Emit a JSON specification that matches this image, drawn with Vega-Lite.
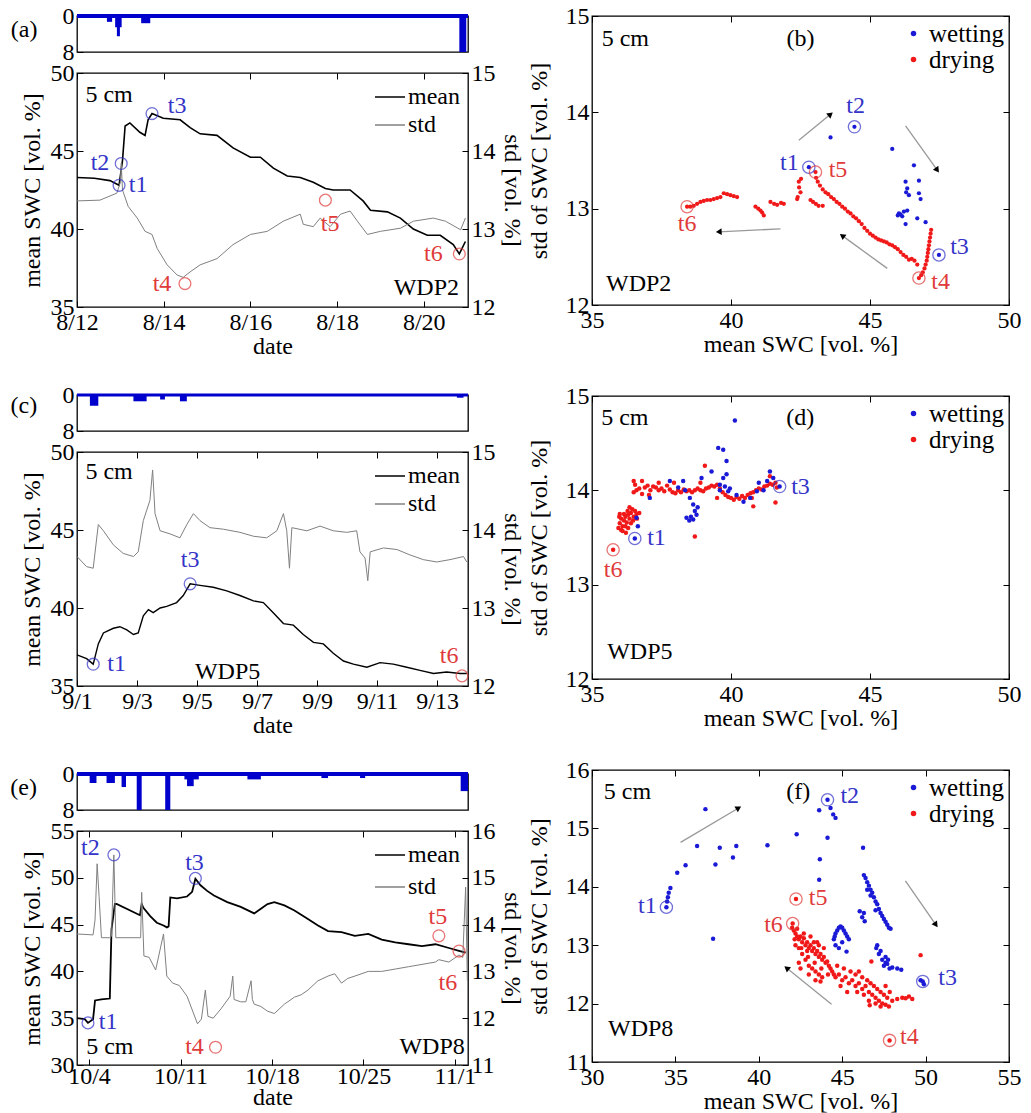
{
"$schema": "https://vega.github.io/schema/vega-lite/v6.json",
"padding": {"left": 9, "top": 3, "right": 0, "bottom": 0},
"config": {
 "font": "Liberation Serif",
 "view": {"stroke": "black", "strokeWidth": 1.3},
 "axis": {"grid": false, "domain": false, "labelFontSize": 24, "titleFontSize": 24, "titleFontWeight": "normal", "labelColor": "black", "titleColor": "black", "tickColor": "black", "tickSize": -6, "labelPadding": 9, "labelFont": "Liberation Serif", "titleFont": "Liberation Serif", "labelFlush": false, "labelOverlap": false},
 "legend": {"labelFont": "Liberation Serif", "labelColor": "black", "labelFontSize": 24},
 "text": {"fontSize": 24, "font": "Liberation Serif"}
},
"datasets": {
 "ts_a": [
  {"s":"mean","day":12.0,"v":43.3},{"s":"mean","day":12.4,"v":43.25},{"s":"mean","day":12.76,"v":43.1},{"s":"mean","day":12.97,"v":42.8},{"s":"mean","day":13.05,"v":44.4},{"s":"mean","day":13.11,"v":46.6},{"s":"mean","day":13.22,"v":46.8},{"s":"mean","day":13.45,"v":46.2},{"s":"mean","day":13.57,"v":46.0},{"s":"mean","day":13.64,"v":47.0},{"s":"mean","day":13.73,"v":47.4},{"s":"mean","day":13.99,"v":47.1},{"s":"mean","day":14.38,"v":47.0},{"s":"mean","day":14.61,"v":46.5},{"s":"mean","day":14.84,"v":46.1},{"s":"mean","day":15.23,"v":46.0},{"s":"mean","day":15.6,"v":45.2},{"s":"mean","day":16.0,"v":44.6},{"s":"mean","day":16.23,"v":44.6},{"s":"mean","day":16.53,"v":43.9},{"s":"mean","day":16.85,"v":43.4},{"s":"mean","day":17.15,"v":43.3},{"s":"mean","day":17.45,"v":43.0},{"s":"mean","day":17.73,"v":42.6},{"s":"mean","day":17.91,"v":42.5},{"s":"mean","day":18.3,"v":42.5},{"s":"mean","day":18.6,"v":41.8},{"s":"mean","day":18.77,"v":41.2},{"s":"mean","day":19.16,"v":41.1},{"s":"mean","day":19.46,"v":40.7},{"s":"mean","day":19.76,"v":40.0},{"s":"mean","day":20.08,"v":39.6},{"s":"mean","day":20.38,"v":39.6},{"s":"mean","day":20.68,"v":39.0},{"s":"mean","day":20.82,"v":38.4},{"s":"mean","day":20.96,"v":39.2},
  {"s":"std","day":12.0,"v":13.36},{"s":"std","day":12.53,"v":13.37},{"s":"std","day":12.92,"v":13.46},{"s":"std","day":13.0,"v":13.6},{"s":"std","day":13.02,"v":13.84},{"s":"std","day":13.05,"v":13.5},{"s":"std","day":13.18,"v":13.29},{"s":"std","day":13.39,"v":13.14},{"s":"std","day":13.57,"v":12.97},{"s":"std","day":13.73,"v":12.93},{"s":"std","day":13.85,"v":12.75},{"s":"std","day":14.08,"v":12.54},{"s":"std","day":14.31,"v":12.41},{"s":"std","day":14.45,"v":12.38},{"s":"std","day":14.61,"v":12.45},{"s":"std","day":14.84,"v":12.54},{"s":"std","day":15.23,"v":12.62},{"s":"std","day":15.6,"v":12.8},{"s":"std","day":16.0,"v":12.93},{"s":"std","day":16.39,"v":12.97},{"s":"std","day":16.76,"v":13.1},{"s":"std","day":17.15,"v":13.19},{"s":"std","day":17.22,"v":13.06},{"s":"std","day":17.45,"v":13.03},{"s":"std","day":17.61,"v":13.14},{"s":"std","day":17.84,"v":13.03},{"s":"std","day":18.08,"v":13.19},{"s":"std","day":18.3,"v":13.23},{"s":"std","day":18.47,"v":13.1},{"s":"std","day":18.7,"v":12.93},{"s":"std","day":19.0,"v":12.97},{"s":"std","day":19.46,"v":13.01},{"s":"std","day":19.76,"v":13.1},{"s":"std","day":20.22,"v":13.14},{"s":"std","day":20.5,"v":13.1},{"s":"std","day":20.85,"v":12.99},{"s":"std","day":20.96,"v":13.14}
 ],
 "ts_c": [
  {"s":"mean","day":1.0,"v":37.0},{"s":"mean","day":1.32,"v":36.75},{"s":"mean","day":1.54,"v":36.4},{"s":"mean","day":1.71,"v":37.7},{"s":"mean","day":1.88,"v":38.4},{"s":"mean","day":2.21,"v":38.7},{"s":"mean","day":2.43,"v":38.8},{"s":"mean","day":2.66,"v":38.6},{"s":"mean","day":2.88,"v":38.3},{"s":"mean","day":3.04,"v":38.4},{"s":"mean","day":3.21,"v":39.5},{"s":"mean","day":3.38,"v":39.9},{"s":"mean","day":3.54,"v":39.7},{"s":"mean","day":3.77,"v":40.0},{"s":"mean","day":3.99,"v":40.1},{"s":"mean","day":4.32,"v":40.35},{"s":"mean","day":4.54,"v":40.8},{"s":"mean","day":4.77,"v":41.55},{"s":"mean","day":5.1,"v":41.45},{"s":"mean","day":5.54,"v":41.33},{"s":"mean","day":5.99,"v":41.1},{"s":"mean","day":6.43,"v":40.8},{"s":"mean","day":6.88,"v":40.46},{"s":"mean","day":7.21,"v":40.35},{"s":"mean","day":7.54,"v":39.7},{"s":"mean","day":7.88,"v":39.0},{"s":"mean","day":8.21,"v":38.9},{"s":"mean","day":8.54,"v":38.3},{"s":"mean","day":8.88,"v":37.8},{"s":"mean","day":9.21,"v":37.7},{"s":"mean","day":9.54,"v":37.1},{"s":"mean","day":9.88,"v":36.6},{"s":"mean","day":10.21,"v":36.4},{"s":"mean","day":10.66,"v":36.2},{"s":"mean","day":11.1,"v":36.5},{"s":"mean","day":11.54,"v":36.4},{"s":"mean","day":11.99,"v":36.2},{"s":"mean","day":12.43,"v":36.0},{"s":"mean","day":12.88,"v":35.8},{"s":"mean","day":13.32,"v":35.9},{"s":"mean","day":13.77,"v":35.8},{"s":"mean","day":13.99,"v":35.8},
  {"s":"std","day":1.0,"v":13.66},{"s":"std","day":1.32,"v":13.53},{"s":"std","day":1.54,"v":13.51},{"s":"std","day":1.71,"v":14.07},{"s":"std","day":1.88,"v":13.99},{"s":"std","day":2.21,"v":13.81},{"s":"std","day":2.54,"v":13.7},{"s":"std","day":2.88,"v":13.66},{"s":"std","day":3.04,"v":13.72},{"s":"std","day":3.21,"v":14.12},{"s":"std","day":3.43,"v":14.38},{"s":"std","day":3.52,"v":14.77},{"s":"std","day":3.6,"v":14.21},{"s":"std","day":3.77,"v":13.99},{"s":"std","day":4.1,"v":13.95},{"s":"std","day":4.43,"v":13.9},{"s":"std","day":4.66,"v":14.07},{"s":"std","day":4.88,"v":14.21},{"s":"std","day":5.1,"v":14.12},{"s":"std","day":5.43,"v":14.03},{"s":"std","day":5.88,"v":14.01},{"s":"std","day":6.43,"v":13.97},{"s":"std","day":6.88,"v":13.92},{"s":"std","day":7.32,"v":13.9},{"s":"std","day":7.66,"v":13.99},{"s":"std","day":7.88,"v":14.21},{"s":"std","day":7.99,"v":13.99},{"s":"std","day":8.08,"v":13.51},{"s":"std","day":8.16,"v":14.03},{"s":"std","day":8.66,"v":13.99},{"s":"std","day":9.1,"v":14.05},{"s":"std","day":9.54,"v":13.99},{"s":"std","day":9.99,"v":13.97},{"s":"std","day":10.32,"v":13.99},{"s":"std","day":10.43,"v":13.72},{"s":"std","day":10.6,"v":13.64},{"s":"std","day":10.69,"v":13.35},{"s":"std","day":10.77,"v":13.72},{"s":"std","day":11.21,"v":13.77},{"s":"std","day":11.66,"v":13.75},{"s":"std","day":12.1,"v":13.68},{"s":"std","day":12.54,"v":13.62},{"s":"std","day":12.99,"v":13.59},{"s":"std","day":13.43,"v":13.62},{"s":"std","day":13.88,"v":13.66},{"s":"std","day":13.99,"v":13.59}
 ],
 "ts_e": [
  {"s":"mean","day":3.08,"v":35.0},{"s":"mean","day":3.67,"v":34.9},{"s":"mean","day":3.92,"v":34.5},{"s":"mean","day":4.31,"v":34.9},{"s":"mean","day":4.46,"v":36.9},{"s":"mean","day":4.95,"v":37.0},{"s":"mean","day":5.59,"v":37.1},{"s":"mean","day":5.72,"v":44.5},{"s":"mean","day":5.98,"v":47.2},{"s":"mean","day":6.11,"v":47.2},{"s":"mean","day":7.9,"v":46.0},{"s":"mean","day":8.03,"v":47.2},{"s":"mean","day":8.16,"v":46.8},{"s":"mean","day":8.68,"v":45.9},{"s":"mean","day":9.19,"v":45.2},{"s":"mean","day":9.7,"v":44.9},{"s":"mean","day":9.96,"v":44.7},{"s":"mean","day":10.09,"v":44.8},{"s":"mean","day":10.22,"v":47.9},{"s":"mean","day":10.73,"v":47.8},{"s":"mean","day":11.5,"v":48.0},{"s":"mean","day":11.89,"v":48.5},{"s":"mean","day":12.14,"v":49.9},{"s":"mean","day":12.53,"v":49.2},{"s":"mean","day":13.04,"v":48.6},{"s":"mean","day":13.56,"v":48.1},{"s":"mean","day":14.58,"v":47.4},{"s":"mean","day":15.61,"v":46.9},{"s":"mean","day":16.64,"v":46.2},{"s":"mean","day":17.15,"v":46.7},{"s":"mean","day":17.66,"v":47.2},{"s":"mean","day":18.18,"v":47.4},{"s":"mean","day":18.95,"v":47.05},{"s":"mean","day":19.72,"v":46.5},{"s":"mean","day":20.75,"v":45.6},{"s":"mean","day":21.52,"v":44.9},{"s":"mean","day":22.29,"v":44.3},{"s":"mean","day":23.32,"v":44.2},{"s":"mean","day":24.34,"v":43.8},{"s":"mean","day":25.37,"v":44.0},{"s":"mean","day":26.4,"v":43.4},{"s":"mean","day":27.43,"v":43.1},{"s":"mean","day":28.45,"v":42.9},{"s":"mean","day":29.48,"v":42.7},{"s":"mean","day":30.51,"v":42.9},{"s":"mean","day":31.54,"v":42.5},{"s":"mean","day":32.31,"v":42.2},{"s":"mean","day":32.82,"v":42.0},
  {"s":"std","day":3.08,"v":13.8},{"s":"std","day":4.31,"v":13.78},{"s":"std","day":4.46,"v":14.1},{"s":"std","day":4.62,"v":15.3},{"s":"std","day":4.77,"v":14.6},{"s":"std","day":4.95,"v":13.72},{"s":"std","day":5.59,"v":13.72},{"s":"std","day":5.72,"v":13.75},{"s":"std","day":5.9,"v":15.49},{"s":"std","day":6.05,"v":13.72},{"s":"std","day":7.95,"v":13.72},{"s":"std","day":8.03,"v":14.69},{"s":"std","day":8.2,"v":13.33},{"s":"std","day":8.6,"v":13.3},{"s":"std","day":9.1,"v":13.03},{"s":"std","day":9.7,"v":13.8},{"s":"std","day":9.95,"v":12.9},{"s":"std","day":10.4,"v":12.75},{"s":"std","day":10.9,"v":12.7},{"s":"std","day":11.5,"v":12.47},{"s":"std","day":12.3,"v":11.88},{"s":"std","day":12.6,"v":11.98},{"s":"std","day":12.9,"v":12.6},{"s":"std","day":13.1,"v":12.04},{"s":"std","day":13.5,"v":12.0},{"s":"std","day":14.1,"v":12.2},{"s":"std","day":14.8,"v":12.47},{"s":"std","day":15.0,"v":12.9},{"s":"std","day":15.1,"v":12.4},{"s":"std","day":15.61,"v":12.35},{"s":"std","day":16.0,"v":12.35},{"s":"std","day":16.4,"v":12.8},{"s":"std","day":16.5,"v":12.4},{"s":"std","day":16.64,"v":12.3},{"s":"std","day":17.15,"v":12.25},{"s":"std","day":17.66,"v":12.15},{"s":"std","day":18.18,"v":12.1},{"s":"std","day":18.95,"v":12.3},{"s":"std","day":19.72,"v":12.45},{"s":"std","day":20.23,"v":12.5},{"s":"std","day":20.75,"v":12.6},{"s":"std","day":21.52,"v":12.8},{"s":"std","day":22.29,"v":12.9},{"s":"std","day":22.8,"v":12.95},{"s":"std","day":23.32,"v":12.75},{"s":"std","day":23.8,"v":12.85},{"s":"std","day":24.34,"v":12.9},{"s":"std","day":25.37,"v":13.0},{"s":"std","day":26.4,"v":13.0},{"s":"std","day":27.43,"v":13.05},{"s":"std","day":28.45,"v":13.1},{"s":"std","day":29.48,"v":13.15},{"s":"std","day":30.51,"v":13.2},{"s":"std","day":30.77,"v":13.25},{"s":"std","day":31.54,"v":13.2},{"s":"std","day":32.31,"v":13.35},{"s":"std","day":32.6,"v":13.3},{"s":"std","day":32.82,"v":14.8},{"s":"std","day":32.95,"v":12.8}
 ],
 "pr_a": [{"d0":12.69,"d1":12.81,"p":1.3},{"d0":12.88,"d1":13.03,"p":2.5},{"d0":12.92,"d1":12.99,"p":4.5},{"d0":13.48,"d1":13.69,"p":1.6},{"d0":20.82,"d1":20.98,"p":8}],
 "pr_c": [{"d0":1.43,"d1":1.71,"p":2.4},{"d0":2.88,"d1":3.32,"p":1.4},{"d0":3.77,"d1":3.93,"p":1.0},{"d0":4.43,"d1":4.66,"p":1.4},{"d0":13.66,"d1":13.88,"p":0.6}],
 "pr_e": [{"d0":4.05,"d1":4.57,"p":2.0},{"d0":5.34,"d1":5.98,"p":2.0},{"d0":6.49,"d1":6.83,"p":2.9},{"d0":7.65,"d1":8.03,"p":8},{"d0":9.83,"d1":10.22,"p":8},{"d0":11.5,"d1":12.01,"p":2.7},{"d0":11.3,"d1":12.4,"p":1.2},{"d0":16.12,"d1":17.15,"p":1.2},{"d0":21.78,"d1":22.29,"p":0.9},{"d0":24.74,"d1":25.13,"p":0.9},{"d0":32.44,"d1":33.0,"p":3.8}],
 "mk_a": [{"t":"t1","k":"w","ax":"m","day":12.97,"v":42.8,"lx":13.41,"ly":42.8},{"t":"t2","k":"w","ax":"s","day":13.02,"v":13.84,"lx":12.53,"ly":13.84},{"t":"t3","k":"w","ax":"m","day":13.73,"v":47.4,"lx":14.31,"ly":47.87},{"t":"t4","k":"d","ax":"s","day":14.49,"v":12.3,"lx":13.96,"ly":12.3},{"t":"t5","k":"d","ax":"s","day":17.73,"v":13.37,"lx":17.84,"ly":13.07},{"t":"t6","k":"d","ax":"m","day":20.82,"v":38.4,"lx":20.22,"ly":38.4}],
 "mk_c": [{"t":"t1","k":"w","ax":"m","day":1.54,"v":36.4,"lx":2.32,"ly":36.42},{"t":"t3","k":"w","ax":"m","day":4.77,"v":41.55,"lx":4.77,"ly":43.08},{"t":"t6","k":"d","ax":"m","day":13.83,"v":35.65,"lx":13.4,"ly":36.9}],
 "mk_e": [{"t":"t1","k":"w","ax":"m","day":3.92,"v":34.5,"lx":5.46,"ly":34.6},{"t":"t2","k":"w","ax":"s","day":5.9,"v":15.49,"lx":4.1,"ly":15.64},{"t":"t3","k":"w","ax":"m","day":12.14,"v":49.94,"lx":12.07,"ly":51.57},{"t":"t4","k":"d","ax":"s","day":13.68,"v":11.38,"lx":12.07,"ly":11.38},{"t":"t5","k":"d","ax":"s","day":30.77,"v":13.76,"lx":30.69,"ly":14.16},{"t":"t6","k":"d","ax":"m","day":32.31,"v":42.17,"lx":31.46,"ly":38.74}],
 "sc_b": [
  {"ph":"drying","m":47.2,"sd":12.78},{"ph":"drying","m":47.18,"sd":12.74},{"ph":"drying","m":47.16,"sd":12.7},{"ph":"drying","m":47.14,"sd":12.66},{"ph":"drying","m":47.12,"sd":12.62},{"ph":"drying","m":47.1,"sd":12.58},{"ph":"drying","m":47.08,"sd":12.54},{"ph":"drying","m":47.06,"sd":12.5},{"ph":"drying","m":47.04,"sd":12.46},{"ph":"drying","m":47.0,"sd":12.42},{"ph":"drying","m":46.96,"sd":12.38},{"ph":"drying","m":46.9,"sd":12.34},{"ph":"drying","m":46.84,"sd":12.31},{"ph":"drying","m":46.76,"sd":12.28},
  {"ph":"drying","m":46.7,"sd":12.42},{"ph":"drying","m":46.6,"sd":12.46},{"ph":"drying","m":46.5,"sd":12.48},{"ph":"drying","m":46.4,"sd":12.47},{"ph":"drying","m":46.3,"sd":12.5},{"ph":"drying","m":46.2,"sd":12.52},{"ph":"drying","m":46.1,"sd":12.55},{"ph":"drying","m":46.0,"sd":12.58},{"ph":"drying","m":45.9,"sd":12.6},{"ph":"drying","m":45.8,"sd":12.62},{"ph":"drying","m":45.7,"sd":12.63},{"ph":"drying","m":45.6,"sd":12.65},{"ph":"drying","m":45.5,"sd":12.66},{"ph":"drying","m":45.4,"sd":12.67},{"ph":"drying","m":45.3,"sd":12.68},{"ph":"drying","m":45.2,"sd":12.7},{"ph":"drying","m":45.1,"sd":12.72},{"ph":"drying","m":45.0,"sd":12.74},{"ph":"drying","m":44.9,"sd":12.77},{"ph":"drying","m":44.8,"sd":12.8},{"ph":"drying","m":44.7,"sd":12.84},{"ph":"drying","m":44.6,"sd":12.87},{"ph":"drying","m":44.5,"sd":12.9},{"ph":"drying","m":44.4,"sd":12.92},{"ph":"drying","m":44.3,"sd":12.95},{"ph":"drying","m":44.2,"sd":12.97},{"ph":"drying","m":44.1,"sd":13.0},{"ph":"drying","m":44.0,"sd":13.02},{"ph":"drying","m":43.9,"sd":13.05},{"ph":"drying","m":43.8,"sd":13.07},{"ph":"drying","m":43.7,"sd":13.1},{"ph":"drying","m":43.6,"sd":13.12},{"ph":"drying","m":43.5,"sd":13.15},{"ph":"drying","m":43.4,"sd":13.17},{"ph":"drying","m":43.3,"sd":13.2},{"ph":"drying","m":43.2,"sd":13.24},{"ph":"drying","m":43.12,"sd":13.28},{"ph":"drying","m":43.06,"sd":13.32},{"ph":"drying","m":43.04,"sd":13.38},
  {"ph":"drying","m":42.86,"sd":13.09},{"ph":"drying","m":42.95,"sd":13.07},{"ph":"drying","m":43.05,"sd":13.05},{"ph":"drying","m":43.15,"sd":13.03},{"ph":"drying","m":43.3,"sd":13.03},
  {"ph":"drying","m":42.5,"sd":13.17},{"ph":"drying","m":42.45,"sd":13.22},{"ph":"drying","m":42.44,"sd":13.28},{"ph":"drying","m":42.4,"sd":13.12},{"ph":"drying","m":42.38,"sd":13.1},{"ph":"drying","m":42.52,"sd":13.31},
  {"ph":"drying","m":41.9,"sd":13.05},{"ph":"drying","m":41.8,"sd":13.06},{"ph":"drying","m":41.66,"sd":13.04},{"ph":"drying","m":41.55,"sd":13.05},{"ph":"drying","m":41.42,"sd":13.07},
  {"ph":"drying","m":41.18,"sd":12.93},{"ph":"drying","m":41.12,"sd":12.96},{"ph":"drying","m":41.06,"sd":12.98},{"ph":"drying","m":40.98,"sd":13.0},{"ph":"drying","m":40.88,"sd":13.02},
  {"ph":"drying","m":40.22,"sd":13.12},{"ph":"drying","m":40.1,"sd":13.13},{"ph":"drying","m":39.98,"sd":13.14},{"ph":"drying","m":39.86,"sd":13.15},{"ph":"drying","m":39.74,"sd":13.16},{"ph":"drying","m":39.62,"sd":13.12},{"ph":"drying","m":39.5,"sd":13.11},{"ph":"drying","m":39.38,"sd":13.1},{"ph":"drying","m":39.26,"sd":13.09},{"ph":"drying","m":39.14,"sd":13.09},{"ph":"drying","m":39.02,"sd":13.08},{"ph":"drying","m":38.9,"sd":13.07},{"ph":"drying","m":38.78,"sd":13.05},{"ph":"drying","m":38.66,"sd":13.03},{"ph":"drying","m":38.54,"sd":13.02},{"ph":"drying","m":38.42,"sd":13.02},
  {"ph":"wetting","m":42.8,"sd":13.43},{"ph":"wetting","m":43.58,"sd":13.74},{"ph":"wetting","m":44.44,"sd":13.85},{"ph":"wetting","m":45.8,"sd":13.62},{"ph":"wetting","m":46.58,"sd":13.45},{"ph":"wetting","m":46.28,"sd":13.28},{"ph":"wetting","m":46.76,"sd":13.29},{"ph":"wetting","m":46.34,"sd":13.21},{"ph":"wetting","m":46.4,"sd":13.14},{"ph":"wetting","m":46.76,"sd":13.16},{"ph":"wetting","m":46.82,"sd":13.1},{"ph":"wetting","m":46.04,"sd":12.95},{"ph":"wetting","m":46.22,"sd":12.97},{"ph":"wetting","m":46.34,"sd":12.98},{"ph":"wetting","m":46.0,"sd":12.93},{"ph":"wetting","m":46.28,"sd":12.84},{"ph":"wetting","m":46.7,"sd":12.9},{"ph":"wetting","m":47.0,"sd":12.86},{"ph":"wetting","m":47.48,"sd":12.52},{"ph":"wetting","m":46.16,"sd":12.92},{"ph":"wetting","m":46.3,"sd":13.17},{"ph":"wetting","m":46.1,"sd":12.94}
 ],
 "sc_d": [
  {"ph":"drying","m":35.95,"sd":13.6},{"ph":"drying","m":36.0,"sd":13.65},{"ph":"drying","m":36.05,"sd":13.7},{"ph":"drying","m":36.1,"sd":13.62},{"ph":"drying","m":36.15,"sd":13.68},{"ph":"drying","m":36.2,"sd":13.72},{"ph":"drying","m":36.25,"sd":13.66},{"ph":"drying","m":36.3,"sd":13.74},{"ph":"drying","m":36.35,"sd":13.7},{"ph":"drying","m":36.4,"sd":13.76},{"ph":"drying","m":36.45,"sd":13.8},{"ph":"drying","m":36.5,"sd":13.72},{"ph":"drying","m":36.55,"sd":13.78},{"ph":"drying","m":36.6,"sd":13.75},{"ph":"drying","m":36.3,"sd":13.6},{"ph":"drying","m":36.1,"sd":13.57},{"ph":"drying","m":36.4,"sd":13.65},{"ph":"drying","m":35.98,"sd":13.72},{"ph":"drying","m":36.2,"sd":13.62},{"ph":"drying","m":36.28,"sd":13.78},{"ph":"drying","m":36.05,"sd":13.58},{"ph":"drying","m":36.48,"sd":13.68},{"ph":"drying","m":36.7,"sd":13.76},{"ph":"drying","m":36.62,"sd":13.7},{"ph":"drying","m":36.15,"sd":13.75},{"ph":"drying","m":36.35,"sd":13.82},{"ph":"drying","m":36.0,"sd":13.75},{"ph":"drying","m":36.22,"sd":13.55},
  {"ph":"drying","m":36.5,"sd":13.98},{"ph":"drying","m":36.6,"sd":14.0},{"ph":"drying","m":36.7,"sd":14.02},{"ph":"drying","m":36.8,"sd":13.96},{"ph":"drying","m":36.9,"sd":14.03},{"ph":"drying","m":37.0,"sd":14.05},{"ph":"drying","m":37.1,"sd":14.0},{"ph":"drying","m":37.2,"sd":14.04},{"ph":"drying","m":37.3,"sd":14.03},{"ph":"drying","m":37.4,"sd":14.0},{"ph":"drying","m":37.5,"sd":14.02},{"ph":"drying","m":37.6,"sd":13.99},{"ph":"drying","m":37.7,"sd":14.05},{"ph":"drying","m":37.8,"sd":14.01},{"ph":"drying","m":37.9,"sd":13.98},{"ph":"drying","m":38.0,"sd":13.97},{"ph":"drying","m":38.1,"sd":14.0},{"ph":"drying","m":38.2,"sd":13.98},{"ph":"drying","m":38.3,"sd":14.01},{"ph":"drying","m":38.4,"sd":13.99},{"ph":"drying","m":38.5,"sd":14.0},{"ph":"drying","m":38.6,"sd":13.98},{"ph":"drying","m":38.7,"sd":14.0},{"ph":"drying","m":38.8,"sd":14.02},{"ph":"drying","m":38.9,"sd":14.0},{"ph":"drying","m":39.0,"sd":13.99},{"ph":"drying","m":39.1,"sd":14.02},{"ph":"drying","m":39.2,"sd":14.03},{"ph":"drying","m":39.3,"sd":14.05},{"ph":"drying","m":39.4,"sd":14.04},{"ph":"drying","m":39.5,"sd":14.06},{"ph":"drying","m":39.6,"sd":14.02},{"ph":"drying","m":39.7,"sd":13.98},{"ph":"drying","m":39.8,"sd":13.95},{"ph":"drying","m":39.9,"sd":13.93},{"ph":"drying","m":40.0,"sd":13.92},{"ph":"drying","m":40.1,"sd":13.9},{"ph":"drying","m":40.2,"sd":13.93},{"ph":"drying","m":40.3,"sd":13.91},{"ph":"drying","m":40.4,"sd":13.94},{"ph":"drying","m":40.5,"sd":13.92},{"ph":"drying","m":40.6,"sd":13.95},{"ph":"drying","m":40.7,"sd":13.97},{"ph":"drying","m":40.8,"sd":13.98},{"ph":"drying","m":40.9,"sd":14.0},{"ph":"drying","m":41.0,"sd":14.02},{"ph":"drying","m":41.1,"sd":14.01},{"ph":"drying","m":41.2,"sd":14.04},{"ph":"drying","m":41.3,"sd":14.05},{"ph":"drying","m":41.4,"sd":14.07},{"ph":"drying","m":41.5,"sd":14.06},{"ph":"drying","m":41.6,"sd":14.08},{"ph":"drying","m":41.65,"sd":14.03},{"ph":"drying","m":36.55,"sd":14.06},{"ph":"drying","m":37.05,"sd":13.95},{"ph":"drying","m":37.4,"sd":14.08},{"ph":"drying","m":38.9,"sd":14.08},{"ph":"drying","m":40.75,"sd":13.92},
  {"ph":"drying","m":39.06,"sd":14.26},{"ph":"drying","m":38.7,"sd":13.51},{"ph":"drying","m":39.5,"sd":13.92},{"ph":"drying","m":40.8,"sd":13.83},{"ph":"drying","m":41.6,"sd":13.87},{"ph":"drying","m":41.4,"sd":14.15},{"ph":"drying","m":36.5,"sd":14.1},{"ph":"drying","m":35.76,"sd":13.37},{"ph":"drying","m":36.8,"sd":14.1},{"ph":"drying","m":37.95,"sd":14.08},
  {"ph":"wetting","m":40.14,"sd":14.74},{"ph":"wetting","m":39.54,"sd":14.45},{"ph":"wetting","m":39.72,"sd":14.43},{"ph":"wetting","m":39.84,"sd":14.31},{"ph":"wetting","m":38.94,"sd":14.13},{"ph":"wetting","m":39.3,"sd":14.2},{"ph":"wetting","m":39.84,"sd":14.17},{"ph":"wetting","m":39.72,"sd":14.13},{"ph":"wetting","m":39.6,"sd":14.06},{"ph":"wetting","m":38.28,"sd":14.1},{"ph":"wetting","m":37.8,"sd":14.1},{"ph":"wetting","m":38.52,"sd":13.92},{"ph":"wetting","m":38.64,"sd":13.85},{"ph":"wetting","m":38.7,"sd":13.78},{"ph":"wetting","m":38.4,"sd":13.71},{"ph":"wetting","m":38.64,"sd":13.69},{"ph":"wetting","m":38.76,"sd":13.74},{"ph":"wetting","m":38.8,"sd":13.82},{"ph":"wetting","m":38.5,"sd":13.68},{"ph":"wetting","m":38.56,"sd":13.72},{"ph":"wetting","m":39.78,"sd":14.04},{"ph":"wetting","m":39.9,"sd":13.99},{"ph":"wetting","m":40.45,"sd":13.88},{"ph":"wetting","m":40.69,"sd":13.92},{"ph":"wetting","m":40.93,"sd":13.99},{"ph":"wetting","m":41.17,"sd":14.0},{"ph":"wetting","m":41.4,"sd":14.2},{"ph":"wetting","m":41.52,"sd":14.13},{"ph":"wetting","m":37.08,"sd":13.92},{"ph":"wetting","m":36.6,"sd":13.71},{"ph":"wetting","m":36.54,"sd":13.49},{"ph":"wetting","m":39.6,"sd":14.0},{"ph":"wetting","m":39.96,"sd":14.02},{"ph":"wetting","m":40.2,"sd":13.95},{"ph":"wetting","m":38.1,"sd":14.03},{"ph":"wetting","m":38.35,"sd":14.0},{"ph":"wetting","m":41.0,"sd":14.08},{"ph":"wetting","m":41.3,"sd":14.1},{"ph":"wetting","m":36.65,"sd":13.62},{"ph":"wetting","m":41.75,"sd":14.04}
 ],
 "sc_f": [
  {"ph":"drying","m":42.0,"sd":13.3},{"ph":"drying","m":42.1,"sd":13.25},{"ph":"drying","m":42.2,"sd":13.2},{"ph":"drying","m":42.3,"sd":13.28},{"ph":"drying","m":42.4,"sd":13.1},{"ph":"drying","m":42.5,"sd":13.15},{"ph":"drying","m":42.6,"sd":13.05},{"ph":"drying","m":42.7,"sd":13.12},{"ph":"drying","m":42.8,"sd":13.0},{"ph":"drying","m":42.9,"sd":13.05},{"ph":"drying","m":43.0,"sd":12.95},{"ph":"drying","m":43.1,"sd":13.0},{"ph":"drying","m":43.2,"sd":12.9},{"ph":"drying","m":43.3,"sd":12.95},{"ph":"drying","m":43.4,"sd":12.85},{"ph":"drying","m":43.5,"sd":12.9},{"ph":"drying","m":43.6,"sd":12.8},{"ph":"drying","m":43.7,"sd":12.85},{"ph":"drying","m":43.8,"sd":12.75},{"ph":"drying","m":43.9,"sd":12.8},{"ph":"drying","m":44.0,"sd":12.7},{"ph":"drying","m":44.1,"sd":12.72},{"ph":"drying","m":44.2,"sd":12.65},{"ph":"drying","m":44.3,"sd":12.6},
  {"ph":"drying","m":42.2,"sd":13.0},{"ph":"drying","m":42.4,"sd":12.95},{"ph":"drying","m":42.6,"sd":12.85},{"ph":"drying","m":42.8,"sd":12.75},{"ph":"drying","m":43.0,"sd":12.65},{"ph":"drying","m":43.2,"sd":12.6},{"ph":"drying","m":43.4,"sd":12.55},{"ph":"drying","m":43.6,"sd":12.5},{"ph":"drying","m":43.8,"sd":12.45},{"ph":"drying","m":42.3,"sd":13.15},{"ph":"drying","m":42.7,"sd":13.2},{"ph":"drying","m":43.1,"sd":13.15},{"ph":"drying","m":43.5,"sd":13.05},{"ph":"drying","m":43.9,"sd":12.95},{"ph":"drying","m":42.15,"sd":13.1},{"ph":"drying","m":42.55,"sd":12.95},{"ph":"drying","m":42.95,"sd":12.8},{"ph":"drying","m":43.35,"sd":12.7},{"ph":"drying","m":43.75,"sd":12.6},{"ph":"drying","m":44.15,"sd":12.5},{"ph":"drying","m":42.9,"sd":12.9},{"ph":"drying","m":43.6,"sd":13.0},{"ph":"drying","m":43.3,"sd":13.05},{"ph":"drying","m":42.4,"sd":12.7},{"ph":"drying","m":42.5,"sd":12.6},{"ph":"drying","m":43.0,"sd":12.5},{"ph":"drying","m":43.4,"sd":12.4},{"ph":"drying","m":43.7,"sd":12.38},
  {"ph":"drying","m":44.4,"sd":12.55},{"ph":"drying","m":44.5,"sd":12.5},{"ph":"drying","m":44.6,"sd":12.45},{"ph":"drying","m":44.8,"sd":12.5},{"ph":"drying","m":45.0,"sd":12.4},{"ph":"drying","m":45.2,"sd":12.45},{"ph":"drying","m":45.4,"sd":12.35},{"ph":"drying","m":45.6,"sd":12.4},{"ph":"drying","m":45.8,"sd":12.3},{"ph":"drying","m":46.0,"sd":12.35},{"ph":"drying","m":46.2,"sd":12.25},{"ph":"drying","m":46.4,"sd":12.3},{"ph":"drying","m":46.6,"sd":12.2},{"ph":"drying","m":46.8,"sd":12.15},{"ph":"drying","m":47.0,"sd":12.1},{"ph":"drying","m":47.2,"sd":12.05},{"ph":"drying","m":47.4,"sd":12.0},{"ph":"drying","m":47.6,"sd":11.98},{"ph":"drying","m":47.8,"sd":11.95},{"ph":"drying","m":45.8,"sd":12.5},{"ph":"drying","m":46.0,"sd":12.55},{"ph":"drying","m":46.2,"sd":12.45},{"ph":"drying","m":46.5,"sd":12.4},{"ph":"drying","m":46.7,"sd":12.35},{"ph":"drying","m":46.9,"sd":12.3},{"ph":"drying","m":47.1,"sd":12.25},{"ph":"drying","m":47.3,"sd":12.2},{"ph":"drying","m":47.5,"sd":12.15},{"ph":"drying","m":47.7,"sd":12.1},{"ph":"drying","m":46.3,"sd":12.15},{"ph":"drying","m":46.6,"sd":12.05},{"ph":"drying","m":47.0,"sd":12.0},{"ph":"drying","m":47.3,"sd":11.95},{"ph":"drying","m":45.5,"sd":12.55},{"ph":"drying","m":45.1,"sd":12.6},{"ph":"drying","m":44.7,"sd":12.65},{"ph":"drying","m":48.0,"sd":12.05},{"ph":"drying","m":48.3,"sd":12.08},{"ph":"drying","m":48.6,"sd":12.1},{"ph":"drying","m":48.8,"sd":12.09},{"ph":"drying","m":49.0,"sd":12.12},{"ph":"drying","m":49.2,"sd":12.08},{"ph":"drying","m":49.7,"sd":12.83},{"ph":"drying","m":46.65,"sd":11.97},{"ph":"drying","m":46.75,"sd":12.72},{"ph":"drying","m":47.85,"sd":12.2},{"ph":"drying","m":47.6,"sd":12.3},{"ph":"drying","m":45.9,"sd":12.2},{"ph":"drying","m":45.3,"sd":12.2},{"ph":"drying","m":44.9,"sd":12.3},
  {"ph":"drying","m":42.23,"sd":13.79},{"ph":"drying","m":42.03,"sd":13.37},{"ph":"drying","m":47.84,"sd":11.37},
  {"ph":"wetting","m":34.46,"sd":13.65},{"ph":"wetting","m":34.5,"sd":13.75},{"ph":"wetting","m":34.55,"sd":13.82},{"ph":"wetting","m":34.6,"sd":13.9},{"ph":"wetting","m":34.7,"sd":13.98},{"ph":"wetting","m":35.11,"sd":14.24},{"ph":"wetting","m":35.61,"sd":14.37},{"ph":"wetting","m":36.3,"sd":14.7},{"ph":"wetting","m":36.8,"sd":15.33},{"ph":"wetting","m":37.4,"sd":14.38},{"ph":"wetting","m":37.66,"sd":14.67},{"ph":"wetting","m":38.45,"sd":14.5},{"ph":"wetting","m":38.65,"sd":14.7},{"ph":"wetting","m":37.26,"sd":13.11},{"ph":"wetting","m":40.52,"sd":14.71},{"ph":"wetting","m":42.27,"sd":14.9},{"ph":"wetting","m":43.62,"sd":15.31},{"ph":"wetting","m":44.12,"sd":15.49},{"ph":"wetting","m":44.3,"sd":15.35},{"ph":"wetting","m":44.46,"sd":15.24},{"ph":"wetting","m":44.6,"sd":15.18},{"ph":"wetting","m":44.12,"sd":14.84},{"ph":"wetting","m":43.66,"sd":14.47},{"ph":"wetting","m":43.62,"sd":14.12},{"ph":"wetting","m":46.25,"sd":14.67},
  {"ph":"wetting","m":46.3,"sd":14.2},{"ph":"wetting","m":46.4,"sd":14.15},{"ph":"wetting","m":46.5,"sd":14.08},{"ph":"wetting","m":46.6,"sd":14.02},{"ph":"wetting","m":46.7,"sd":13.95},{"ph":"wetting","m":46.8,"sd":13.9},{"ph":"wetting","m":46.9,"sd":13.82},{"ph":"wetting","m":47.0,"sd":13.75},{"ph":"wetting","m":47.1,"sd":13.7},{"ph":"wetting","m":47.2,"sd":13.62},{"ph":"wetting","m":47.3,"sd":13.55},{"ph":"wetting","m":47.4,"sd":13.5},{"ph":"wetting","m":47.5,"sd":13.45},{"ph":"wetting","m":47.6,"sd":13.4},{"ph":"wetting","m":47.7,"sd":13.35},{"ph":"wetting","m":47.8,"sd":13.3},{"ph":"wetting","m":47.9,"sd":13.28},{"ph":"wetting","m":46.5,"sd":13.95},{"ph":"wetting","m":46.7,"sd":13.85},{"ph":"wetting","m":47.0,"sd":13.6},
  {"ph":"wetting","m":46.05,"sd":13.58},{"ph":"wetting","m":46.2,"sd":13.48},{"ph":"wetting","m":46.35,"sd":13.41},{"ph":"wetting","m":46.3,"sd":13.55},
  {"ph":"wetting","m":44.5,"sd":13.1},{"ph":"wetting","m":44.6,"sd":13.2},{"ph":"wetting","m":44.7,"sd":13.25},{"ph":"wetting","m":44.8,"sd":13.3},{"ph":"wetting","m":44.9,"sd":13.32},{"ph":"wetting","m":45.0,"sd":13.3},{"ph":"wetting","m":45.1,"sd":13.25},{"ph":"wetting","m":45.2,"sd":13.2},{"ph":"wetting","m":45.3,"sd":13.15},{"ph":"wetting","m":45.4,"sd":13.1},{"ph":"wetting","m":44.6,"sd":13.0},{"ph":"wetting","m":44.8,"sd":12.95},{"ph":"wetting","m":45.0,"sd":13.05},{"ph":"wetting","m":45.26,"sd":12.89},{"ph":"wetting","m":44.55,"sd":13.15},
  {"ph":"wetting","m":47.04,"sd":12.95},{"ph":"wetting","m":47.2,"sd":12.85},{"ph":"wetting","m":47.4,"sd":12.75},{"ph":"wetting","m":47.6,"sd":12.7},{"ph":"wetting","m":47.84,"sd":12.6},{"ph":"wetting","m":47.5,"sd":12.65},{"ph":"wetting","m":47.7,"sd":12.68},{"ph":"wetting","m":47.3,"sd":12.9},{"ph":"wetting","m":47.1,"sd":13.0},{"ph":"wetting","m":48.54,"sd":12.58},{"ph":"wetting","m":49.83,"sd":12.38},{"ph":"wetting","m":49.7,"sd":12.4},{"ph":"wetting","m":49.9,"sd":12.33},{"ph":"wetting","m":48.0,"sd":12.62},{"ph":"wetting","m":48.3,"sd":12.6},{"ph":"wetting","m":47.6,"sd":12.8},{"ph":"wetting","m":47.75,"sd":12.75}
 ],
 "mk_b": [{"t":"t1","k":"w","m":42.8,"sd":13.43,"lx":42.1,"ly":13.47},{"t":"t2","k":"w","m":44.44,"sd":13.85,"lx":44.48,"ly":14.07},{"t":"t3","k":"w","m":47.48,"sd":12.52,"lx":48.22,"ly":12.6},{"t":"t4","k":"d","m":46.76,"sd":12.28,"lx":47.54,"ly":12.24},{"t":"t5","k":"d","m":43.04,"sd":13.38,"lx":43.85,"ly":13.4},{"t":"t6","k":"d","m":38.42,"sd":13.02,"lx":38.42,"ly":12.84}],
 "mk_d": [{"t":"t1","k":"w","m":36.54,"sd":13.49,"lx":37.32,"ly":13.49},{"t":"t3","k":"w","m":41.75,"sd":14.04,"lx":42.5,"ly":14.04},{"t":"t6","k":"d","m":35.76,"sd":13.37,"lx":35.76,"ly":13.16}],
 "mk_f": [{"t":"t1","k":"w","m":34.46,"sd":13.65,"lx":33.32,"ly":13.67},{"t":"t2","k":"w","m":44.12,"sd":15.49,"lx":45.45,"ly":15.56},{"t":"t3","k":"w","m":49.83,"sd":12.38,"lx":51.32,"ly":12.43},{"t":"t4","k":"d","m":47.84,"sd":11.37,"lx":49.03,"ly":11.43},{"t":"t5","k":"d","m":42.23,"sd":13.79,"lx":43.56,"ly":13.81},{"t":"t6","k":"d","m":42.03,"sd":13.37,"lx":40.88,"ly":13.35}],
 "ar_b": [{"x":42.44,"y":13.71,"x2":43.58,"y2":13.98},{"x":46.28,"y":13.86,"x2":47.42,"y2":13.4},{"x":45.62,"y":12.38,"x2":44.0,"y2":12.72},{"x":41.78,"y":12.79,"x2":39.56,"y2":12.76}],
 "ar_f": [{"x":35.31,"y":14.76,"x2":38.79,"y2":15.35},{"x":48.79,"y":14.1,"x2":50.62,"y2":13.35},{"x":44.36,"y":11.99,"x2":41.67,"y2":12.61}]
},
"hconcat": [
 {"vconcat": [
   {"width": 391, "height": 36, "layer": [
    {"data": {"name": "pr_a"}, "mark": {"type": "rect", "color": "#0000cc"}, "encoding": {"x": {"field": "d0", "type": "quantitative", "scale": {"domain": [12, 21.02], "nice": false, "zero": false}, "axis": null}, "x2": {"field": "d1"}, "y": {"field": "p", "type": "quantitative", "scale": {"domain": [0, 8], "reverse": true, "nice": false}, "axis": {"values": [0, 8], "title": null}}, "y2": {"datum": 0}}},
    {"data": {"values": [{}]}, "mark": {"type": "rule", "color": "#0000cc", "strokeWidth": 4}, "encoding": {"y": {"datum": 0, "type": "quantitative"}}},
    {"data": {"values": [{}]}, "mark": {"type": "text"}, "encoding": {"x": {"datum": 10.78, "type": "quantitative"}, "y": {"datum": 3, "type": "quantitative"}, "text": {"value": "(a)"}}}
   ]},
   {"width": 391, "height": 234, "layer": [
    {"data": {"name": "ts_a"}, "transform": [{"filter": "datum.s == 'mean'"}], "mark": {"type": "line", "strokeWidth": 1.6}, "encoding": {"x": {"field": "day", "type": "quantitative", "scale": {"domain": [12, 21.02], "nice": false, "zero": false}, "axis": {"orient": "bottom", "values": [12, 14, 16, 18, 20], "labelExpr": "'8/' + datum.value", "title": "date", "titlePadding": 0}}, "y": {"field": "v", "type": "quantitative", "scale": {"domain": [35, 50], "nice": false, "zero": false}, "axis": {"orient": "left", "values": [35, 40, 45, 50], "title": "mean SWC [vol. %]", "titlePadding": 6}}, "color": {"field": "s", "type": "nominal", "scale": {"domain": ["mean", "std"], "range": ["black", "#808080"]}, "legend": {"orient": "top-right", "title": null, "symbolType": "stroke", "symbolSize": 900, "symbolStrokeWidth": 1.5, "offset": 8, "padding": 0, "rowPadding": -4, "labelOffset": 2}}}},
    {"data": {"name": "ts_a"}, "transform": [{"filter": "datum.s == 'std'"}], "mark": {"type": "line", "strokeWidth": 1}, "encoding": {"x": {"field": "day", "type": "quantitative", "scale": {"domain": [12, 21.02], "nice": false, "zero": false}, "axis": {"orient": "top", "values": [12, 14, 16, 18, 20], "labels": false, "title": null}}, "y": {"field": "v", "type": "quantitative", "scale": {"domain": [12, 15], "nice": false, "zero": false}, "axis": {"orient": "right", "values": [12, 13, 14, 15], "title": "std [vol. %]", "titlePadding": 4}}, "color": {"field": "s", "type": "nominal"}}},
    {"data": {"name": "mk_a"}, "transform": [{"filter": "datum.ax == 'm'"}], "mark": {"type": "point", "shape": "circle", "filled": false, "size": 140, "strokeWidth": 1.3}, "encoding": {"x": {"field": "day", "type": "quantitative", "axis": null}, "y": {"field": "v", "type": "quantitative", "scale": {"domain": [35, 50]}, "axis": null}, "stroke": {"field": "k", "type": "nominal", "scale": {"domain": ["w", "d"], "range": ["#3434c8", "#e03a3a"]}, "legend": null}}},
    {"data": {"name": "mk_a"}, "transform": [{"filter": "datum.ax == 's'"}], "mark": {"type": "point", "shape": "circle", "filled": false, "size": 140, "strokeWidth": 1.3}, "encoding": {"x": {"field": "day", "type": "quantitative", "axis": null}, "y": {"field": "v", "type": "quantitative", "scale": {"domain": [12, 15]}, "axis": null}, "stroke": {"field": "k", "type": "nominal", "scale": {"domain": ["w", "d"], "range": ["#3434c8", "#e03a3a"]}, "legend": null}}},
    {"data": {"name": "mk_a"}, "transform": [{"filter": "datum.ax == 'm'"}], "mark": {"type": "text"}, "encoding": {"x": {"field": "lx", "type": "quantitative", "axis": null}, "y": {"field": "ly", "type": "quantitative", "scale": {"domain": [35, 50]}, "axis": null}, "text": {"field": "t"}, "fill": {"field": "k", "type": "nominal", "scale": {"domain": ["w", "d"], "range": ["#3434c8", "#e03a3a"]}, "legend": null}}},
    {"data": {"name": "mk_a"}, "transform": [{"filter": "datum.ax == 's'"}], "mark": {"type": "text"}, "encoding": {"x": {"field": "lx", "type": "quantitative", "axis": null}, "y": {"field": "ly", "type": "quantitative", "scale": {"domain": [12, 15]}, "axis": null}, "text": {"field": "t"}, "fill": {"field": "k", "type": "nominal", "scale": {"domain": ["w", "d"], "range": ["#3434c8", "#e03a3a"]}, "legend": null}}},
    {"data": {"values": [{}]}, "mark": {"type": "text"}, "encoding": {"x": {"datum": 12.74, "type": "quantitative", "axis": null}, "y": {"datum": 48.56, "type": "quantitative", "scale": {"domain": [35, 50]}, "axis": null}, "text": {"value": "5 cm"}}},
    {"data": {"values": [{}]}, "mark": {"type": "text"}, "encoding": {"x": {"datum": 20.06, "type": "quantitative", "axis": null}, "y": {"datum": 36.2, "type": "quantitative", "scale": {"domain": [35, 50]}, "axis": null}, "text": {"value": "WDP2"}}}
   ], "resolve": {"scale": {"y": "independent"}, "axis": {"x": "independent", "y": "independent"}}},
   {"width": 391, "height": 46, "data": {"values": []}, "mark": "point", "view": {"stroke": null}},
   {"width": 391, "height": 36, "layer": [
    {"data": {"name": "pr_c"}, "mark": {"type": "rect", "color": "#0000cc"}, "encoding": {"x": {"field": "d0", "type": "quantitative", "scale": {"domain": [1, 14.03], "nice": false, "zero": false}, "axis": null}, "x2": {"field": "d1"}, "y": {"field": "p", "type": "quantitative", "scale": {"domain": [0, 8], "reverse": true, "nice": false}, "axis": {"values": [0, 8], "title": null}}, "y2": {"datum": 0}}},
    {"data": {"values": [{}]}, "mark": {"type": "rule", "color": "#0000cc", "strokeWidth": 3}, "encoding": {"y": {"datum": 0, "type": "quantitative"}}},
    {"data": {"values": [{}]}, "mark": {"type": "text"}, "encoding": {"x": {"datum": -0.77, "type": "quantitative"}, "y": {"datum": 2.5, "type": "quantitative"}, "text": {"value": "(c)"}}}
   ]},
   {"width": 391, "height": 234, "layer": [
    {"data": {"name": "ts_c"}, "transform": [{"filter": "datum.s == 'mean'"}], "mark": {"type": "line", "strokeWidth": 1.4}, "encoding": {"x": {"field": "day", "type": "quantitative", "scale": {"domain": [1, 14.03], "nice": false, "zero": false}, "axis": {"orient": "bottom", "values": [1, 3, 5, 7, 9, 11, 13], "labelExpr": "'9/' + datum.value", "title": "date", "titlePadding": 0}}, "y": {"field": "v", "type": "quantitative", "scale": {"domain": [35, 50], "nice": false, "zero": false}, "axis": {"orient": "left", "values": [35, 40, 45, 50], "title": "mean SWC [vol. %]", "titlePadding": 6}}, "color": {"field": "s", "type": "nominal", "scale": {"domain": ["mean", "std"], "range": ["black", "#808080"]}, "legend": {"orient": "top-right", "title": null, "symbolType": "stroke", "symbolSize": 900, "symbolStrokeWidth": 1.5, "offset": 8, "padding": 0, "rowPadding": -4, "labelOffset": 2}}}},
    {"data": {"name": "ts_c"}, "transform": [{"filter": "datum.s == 'std'"}], "mark": {"type": "line", "strokeWidth": 1}, "encoding": {"x": {"field": "day", "type": "quantitative", "scale": {"domain": [1, 14.03], "nice": false, "zero": false}, "axis": {"orient": "top", "values": [1, 3, 5, 7, 9, 11, 13], "labels": false, "title": null}}, "y": {"field": "v", "type": "quantitative", "scale": {"domain": [12, 15], "nice": false, "zero": false}, "axis": {"orient": "right", "values": [12, 13, 14, 15], "title": "std [vol. %]", "titlePadding": 4}}, "color": {"field": "s", "type": "nominal"}}},
    {"data": {"name": "mk_c"}, "mark": {"type": "point", "shape": "circle", "filled": false, "size": 140, "strokeWidth": 1.3}, "encoding": {"x": {"field": "day", "type": "quantitative", "axis": null}, "y": {"field": "v", "type": "quantitative", "scale": {"domain": [35, 50]}, "axis": null}, "stroke": {"field": "k", "type": "nominal", "scale": {"domain": ["w", "d"], "range": ["#3434c8", "#e03a3a"]}, "legend": null}}},
    {"data": {"name": "mk_c"}, "mark": {"type": "text"}, "encoding": {"x": {"field": "lx", "type": "quantitative", "axis": null}, "y": {"field": "ly", "type": "quantitative", "scale": {"domain": [35, 50]}, "axis": null}, "text": {"field": "t"}, "fill": {"field": "k", "type": "nominal", "scale": {"domain": ["w", "d"], "range": ["#3434c8", "#e03a3a"]}, "legend": null}}},
    {"data": {"values": [{}]}, "mark": {"type": "text"}, "encoding": {"x": {"datum": 2.07, "type": "quantitative", "axis": null}, "y": {"datum": 48.7, "type": "quantitative", "scale": {"domain": [35, 50]}, "axis": null}, "text": {"value": "5 cm"}}},
    {"data": {"values": [{}]}, "mark": {"type": "text"}, "encoding": {"x": {"datum": 6.02, "type": "quantitative", "axis": null}, "y": {"datum": 35.9, "type": "quantitative", "scale": {"domain": [35, 50]}, "axis": null}, "text": {"value": "WDP5"}}}
   ], "resolve": {"scale": {"y": "independent"}, "axis": {"x": "independent", "y": "independent"}}},
   {"width": 391, "height": 46, "data": {"values": []}, "mark": "point", "view": {"stroke": null}},
   {"width": 391, "height": 36, "layer": [
    {"data": {"name": "pr_e"}, "mark": {"type": "rect", "color": "#0000cc"}, "encoding": {"x": {"field": "d0", "type": "quantitative", "scale": {"domain": [3.08, 33.0], "nice": false, "zero": false}, "axis": null}, "x2": {"field": "d1"}, "y": {"field": "p", "type": "quantitative", "scale": {"domain": [0, 8], "reverse": true, "nice": false}, "axis": {"values": [0, 8], "title": null}}, "y2": {"datum": 0}}},
    {"data": {"values": [{}]}, "mark": {"type": "rule", "color": "#0000cc", "strokeWidth": 4}, "encoding": {"y": {"datum": 0, "type": "quantitative"}}},
    {"data": {"values": [{}]}, "mark": {"type": "text"}, "encoding": {"x": {"datum": -1.0, "type": "quantitative"}, "y": {"datum": 3, "type": "quantitative"}, "text": {"value": "(e)"}}}
   ]},
   {"width": 391, "height": 234, "layer": [
    {"data": {"name": "ts_e"}, "transform": [{"filter": "datum.s == 'mean'"}], "mark": {"type": "line", "strokeWidth": 1.8}, "encoding": {"x": {"field": "day", "type": "quantitative", "scale": {"domain": [3.08, 33.0], "nice": false, "zero": false}, "axis": {"orient": "bottom", "values": [4, 11, 18, 25, 32], "labelExpr": "datum.value > 31 ? '11/' + (datum.value - 31) : '10/' + datum.value", "title": "date", "titlePadding": -3, "labelPadding": 5}}, "y": {"field": "v", "type": "quantitative", "scale": {"domain": [30, 55], "nice": false, "zero": false}, "axis": {"orient": "left", "values": [30, 35, 40, 45, 50, 55], "title": "mean SWC [vol. %]", "titlePadding": 6}}, "color": {"field": "s", "type": "nominal", "scale": {"domain": ["mean", "std"], "range": ["black", "#808080"]}, "legend": {"orient": "top-right", "title": null, "symbolType": "stroke", "symbolSize": 900, "symbolStrokeWidth": 1.5, "offset": 8, "padding": 0, "rowPadding": 4, "labelOffset": 2}}}},
    {"data": {"name": "ts_e"}, "transform": [{"filter": "datum.s == 'std'"}], "mark": {"type": "line", "strokeWidth": 1}, "encoding": {"x": {"field": "day", "type": "quantitative", "scale": {"domain": [3.08, 33.0], "nice": false, "zero": false}, "axis": {"orient": "top", "values": [4, 11, 18, 25, 32], "labels": false, "title": null}}, "y": {"field": "v", "type": "quantitative", "scale": {"domain": [11, 16], "nice": false, "zero": false}, "axis": {"orient": "right", "values": [11, 12, 13, 14, 15, 16], "title": "std [vol. %]", "titlePadding": 4}}, "color": {"field": "s", "type": "nominal"}}},
    {"data": {"name": "mk_e"}, "transform": [{"filter": "datum.ax == 'm'"}], "mark": {"type": "point", "shape": "circle", "filled": false, "size": 140, "strokeWidth": 1.3}, "encoding": {"x": {"field": "day", "type": "quantitative", "axis": null}, "y": {"field": "v", "type": "quantitative", "scale": {"domain": [30, 55]}, "axis": null}, "stroke": {"field": "k", "type": "nominal", "scale": {"domain": ["w", "d"], "range": ["#3434c8", "#e03a3a"]}, "legend": null}}},
    {"data": {"name": "mk_e"}, "transform": [{"filter": "datum.ax == 's'"}], "mark": {"type": "point", "shape": "circle", "filled": false, "size": 140, "strokeWidth": 1.3}, "encoding": {"x": {"field": "day", "type": "quantitative", "axis": null}, "y": {"field": "v", "type": "quantitative", "scale": {"domain": [11, 16]}, "axis": null}, "stroke": {"field": "k", "type": "nominal", "scale": {"domain": ["w", "d"], "range": ["#3434c8", "#e03a3a"]}, "legend": null}}},
    {"data": {"name": "mk_e"}, "transform": [{"filter": "datum.ax == 'm'"}], "mark": {"type": "text"}, "encoding": {"x": {"field": "lx", "type": "quantitative", "axis": null}, "y": {"field": "ly", "type": "quantitative", "scale": {"domain": [30, 55]}, "axis": null}, "text": {"field": "t"}, "fill": {"field": "k", "type": "nominal", "scale": {"domain": ["w", "d"], "range": ["#3434c8", "#e03a3a"]}, "legend": null}}},
    {"data": {"name": "mk_e"}, "transform": [{"filter": "datum.ax == 's'"}], "mark": {"type": "text"}, "encoding": {"x": {"field": "lx", "type": "quantitative", "axis": null}, "y": {"field": "ly", "type": "quantitative", "scale": {"domain": [11, 16]}, "axis": null}, "text": {"field": "t"}, "fill": {"field": "k", "type": "nominal", "scale": {"domain": ["w", "d"], "range": ["#3434c8", "#e03a3a"]}, "legend": null}}},
    {"data": {"values": [{}]}, "mark": {"type": "text"}, "encoding": {"x": {"datum": 5.59, "type": "quantitative", "axis": null}, "y": {"datum": 31.88, "type": "quantitative", "scale": {"domain": [30, 55]}, "axis": null}, "text": {"value": "5 cm"}}},
    {"data": {"values": [{}]}, "mark": {"type": "text"}, "encoding": {"x": {"datum": 30.25, "type": "quantitative", "axis": null}, "y": {"datum": 31.88, "type": "quantitative", "scale": {"domain": [30, 55]}, "axis": null}, "text": {"value": "WDP8"}}}
   ], "resolve": {"scale": {"y": "independent"}, "axis": {"x": "independent", "y": "independent"}}}
 ], "spacing": 21, "bounds": "flush", "resolve": {"scale": {"color": "independent", "stroke": "independent", "fill": "independent"}, "legend": {"color": "independent"}}},
 {"vconcat": [
  {"width": 417, "height": 289, "layer": [
   {"data": {"name": "sc_b"}, "mark": {"type": "point", "filled": true, "size": 18, "opacity": 1}, "encoding": {"x": {"field": "m", "type": "quantitative", "scale": {"domain": [35, 50], "nice": false, "zero": false}, "axis": {"orient": "bottom", "values": [35, 40, 45, 50], "title": "mean SWC [vol. %]", "titlePadding": 0}}, "y": {"field": "sd", "type": "quantitative", "scale": {"domain": [12, 15], "nice": false, "zero": false}, "axis": {"orient": "left", "values": [12, 13, 14, 15], "title": "std of SWC [vol. %]", "titlePadding": 14}}, "color": {"field": "ph", "type": "nominal", "scale": {"domain": ["wetting", "drying"], "range": ["#1a1ad6", "#f01818"]}, "legend": {"orient": "top-right", "title": null, "symbolType": "circle", "symbolSize": 30, "offset": 5, "padding": 0, "rowPadding": -2, "labelOffset": 3, "labelFontSize": 25}}}},
   {"data": {"name": "ar_b"}, "mark": {"type": "rule", "color": "#999999", "strokeWidth": 1.3}, "encoding": {"x": {"field": "x", "type": "quantitative", "axis": {"orient": "top", "values": [35, 40, 45, 50], "labels": false, "title": null}}, "y": {"field": "y", "type": "quantitative", "axis": {"orient": "right", "values": [12, 13, 14, 15], "labels": false, "title": null}}, "x2": {"field": "x2"}, "y2": {"field": "y2"}}},
   {"data": {"name": "ar_b"}, "transform": [{"calculate": "atan2((datum.x2 - datum.x) * 27.8, (datum.y2 - datum.y) * 96.3) * 180 / PI", "as": "ang"}], "mark": {"type": "point", "shape": "triangle-up", "filled": true, "size": 45, "color": "black", "opacity": 1}, "encoding": {"x": {"field": "x2", "type": "quantitative", "axis": null}, "y": {"field": "y2", "type": "quantitative", "axis": null}, "angle": {"field": "ang", "type": "quantitative", "scale": null}}},
   {"data": {"name": "mk_b"}, "mark": {"type": "point", "shape": "circle", "filled": false, "size": 150, "strokeWidth": 1.3}, "encoding": {"x": {"field": "m", "type": "quantitative", "axis": null}, "y": {"field": "sd", "type": "quantitative", "axis": null}, "stroke": {"field": "k", "type": "nominal", "scale": {"domain": ["w", "d"], "range": ["#3434c8", "#e03a3a"]}, "legend": null}}},
   {"data": {"name": "mk_b"}, "mark": {"type": "text"}, "encoding": {"x": {"field": "lx", "type": "quantitative", "axis": null}, "y": {"field": "ly", "type": "quantitative", "axis": null}, "text": {"field": "t"}, "fill": {"field": "k", "type": "nominal", "scale": {"domain": ["w", "d"], "range": ["#3434c8", "#e03a3a"]}, "legend": null}}},
   {"data": {"values": [{}]}, "mark": {"type": "text"}, "encoding": {"x": {"datum": 36.2, "type": "quantitative", "axis": null}, "y": {"datum": 14.76, "type": "quantitative", "axis": null}, "text": {"value": "5 cm"}}},
   {"data": {"values": [{}]}, "mark": {"type": "text"}, "encoding": {"x": {"datum": 42.5, "type": "quantitative", "axis": null}, "y": {"datum": 14.76, "type": "quantitative", "axis": null}, "text": {"value": "(b)"}}},
   {"data": {"values": [{}]}, "mark": {"type": "text"}, "encoding": {"x": {"datum": 36.68, "type": "quantitative", "axis": null}, "y": {"datum": 12.22, "type": "quantitative", "axis": null}, "text": {"value": "WDP2"}}}
  ], "resolve": {"axis": {"x": "independent", "y": "independent"}}},
  {"width": 417, "height": 283, "layer": [
   {"data": {"name": "sc_d"}, "mark": {"type": "point", "filled": true, "size": 20, "opacity": 1}, "encoding": {"x": {"field": "m", "type": "quantitative", "scale": {"domain": [35, 50], "nice": false, "zero": false}, "axis": {"orient": "bottom", "values": [35, 40, 45, 50], "title": "mean SWC [vol. %]", "titlePadding": 0}}, "y": {"field": "sd", "type": "quantitative", "scale": {"domain": [12, 15], "nice": false, "zero": false}, "axis": {"orient": "left", "values": [12, 13, 14, 15], "title": "std of SWC [vol. %]", "titlePadding": 14}}, "color": {"field": "ph", "type": "nominal", "scale": {"domain": ["wetting", "drying"], "range": ["#1a1ad6", "#f01818"]}, "legend": {"orient": "top-right", "title": null, "symbolType": "circle", "symbolSize": 30, "offset": 5, "padding": 0, "rowPadding": -2, "labelOffset": 3, "labelFontSize": 25}}}},
   {"data": {"name": "mk_d"}, "mark": {"type": "point", "shape": "circle", "filled": false, "size": 150, "strokeWidth": 1.3}, "encoding": {"x": {"field": "m", "type": "quantitative", "axis": {"orient": "top", "values": [35, 40, 45, 50], "labels": false, "title": null}}, "y": {"field": "sd", "type": "quantitative", "axis": {"orient": "right", "values": [12, 13, 14, 15], "labels": false, "title": null}}, "stroke": {"field": "k", "type": "nominal", "scale": {"domain": ["w", "d"], "range": ["#3434c8", "#e03a3a"]}, "legend": null}}},
   {"data": {"name": "mk_d"}, "mark": {"type": "text"}, "encoding": {"x": {"field": "lx", "type": "quantitative", "axis": null}, "y": {"field": "ly", "type": "quantitative", "axis": null}, "text": {"field": "t"}, "fill": {"field": "k", "type": "nominal", "scale": {"domain": ["w", "d"], "range": ["#3434c8", "#e03a3a"]}, "legend": null}}},
   {"data": {"values": [{}]}, "mark": {"type": "text"}, "encoding": {"x": {"datum": 36.18, "type": "quantitative", "axis": null}, "y": {"datum": 14.77, "type": "quantitative", "axis": null}, "text": {"value": "5 cm"}}},
   {"data": {"values": [{}]}, "mark": {"type": "text"}, "encoding": {"x": {"datum": 42.49, "type": "quantitative", "axis": null}, "y": {"datum": 14.77, "type": "quantitative", "axis": null}, "text": {"value": "(d)"}}},
   {"data": {"values": [{}]}, "mark": {"type": "text"}, "encoding": {"x": {"datum": 36.72, "type": "quantitative", "axis": null}, "y": {"datum": 12.29, "type": "quantitative", "axis": null}, "text": {"value": "WDP5"}}}
  ], "resolve": {"axis": {"x": "independent", "y": "independent"}}},
  {"width": 417, "height": 292, "layer": [
   {"data": {"name": "sc_f"}, "mark": {"type": "point", "filled": true, "size": 20, "opacity": 1}, "encoding": {"x": {"field": "m", "type": "quantitative", "scale": {"domain": [30, 55], "nice": false, "zero": false}, "axis": {"orient": "bottom", "values": [30, 35, 40, 45, 50, 55], "title": "mean SWC [vol. %]", "titlePadding": 0}}, "y": {"field": "sd", "type": "quantitative", "scale": {"domain": [11, 16], "nice": false, "zero": false}, "axis": {"orient": "left", "values": [11, 12, 13, 14, 15, 16], "title": "std of SWC [vol. %]", "titlePadding": 14}}, "color": {"field": "ph", "type": "nominal", "scale": {"domain": ["wetting", "drying"], "range": ["#1a1ad6", "#f01818"]}, "legend": {"orient": "top-right", "title": null, "symbolType": "circle", "symbolSize": 30, "offset": 5, "padding": 0, "rowPadding": -2, "labelOffset": 3, "labelFontSize": 25}}}},
   {"data": {"name": "ar_f"}, "mark": {"type": "rule", "color": "#999999", "strokeWidth": 1.3}, "encoding": {"x": {"field": "x", "type": "quantitative", "axis": {"orient": "top", "values": [30, 35, 40, 45, 50, 55], "labels": false, "title": null}}, "y": {"field": "y", "type": "quantitative", "axis": {"orient": "right", "values": [11, 12, 13, 14, 15, 16], "labels": false, "title": null}}, "x2": {"field": "x2"}, "y2": {"field": "y2"}}},
   {"data": {"name": "ar_f"}, "transform": [{"calculate": "atan2((datum.x2 - datum.x) * 16.68, (datum.y2 - datum.y) * 58.4) * 180 / PI", "as": "ang"}], "mark": {"type": "point", "shape": "triangle-up", "filled": true, "size": 45, "color": "black", "opacity": 1}, "encoding": {"x": {"field": "x2", "type": "quantitative", "axis": null}, "y": {"field": "y2", "type": "quantitative", "axis": null}, "angle": {"field": "ang", "type": "quantitative", "scale": null}}},
   {"data": {"name": "mk_f"}, "mark": {"type": "point", "shape": "circle", "filled": false, "size": 150, "strokeWidth": 1.3}, "encoding": {"x": {"field": "m", "type": "quantitative", "axis": null}, "y": {"field": "sd", "type": "quantitative", "axis": null}, "stroke": {"field": "k", "type": "nominal", "scale": {"domain": ["w", "d"], "range": ["#3434c8", "#e03a3a"]}, "legend": null}}},
   {"data": {"name": "mk_f"}, "mark": {"type": "text"}, "encoding": {"x": {"field": "lx", "type": "quantitative", "axis": null}, "y": {"field": "ly", "type": "quantitative", "axis": null}, "text": {"field": "t"}, "fill": {"field": "k", "type": "nominal", "scale": {"domain": ["w", "d"], "range": ["#3434c8", "#e03a3a"]}, "legend": null}}},
   {"data": {"values": [{}]}, "mark": {"type": "text"}, "encoding": {"x": {"datum": 32.13, "type": "quantitative", "axis": null}, "y": {"datum": 15.62, "type": "quantitative", "axis": null}, "text": {"value": "5 cm"}}},
   {"data": {"values": [{}]}, "mark": {"type": "text"}, "encoding": {"x": {"datum": 42.37, "type": "quantitative", "axis": null}, "y": {"datum": 15.62, "type": "quantitative", "axis": null}, "text": {"value": "(f)"}}},
   {"data": {"values": [{}]}, "mark": {"type": "text"}, "encoding": {"x": {"datum": 32.92, "type": "quantitative", "axis": null}, "y": {"datum": 11.57, "type": "quantitative", "axis": null}, "text": {"value": "WDP8"}}}
  ], "resolve": {"axis": {"x": "independent", "y": "independent"}}}
 ], "spacing": 91, "bounds": "flush", "resolve": {"scale": {"color": "independent", "stroke": "independent", "fill": "independent"}, "legend": {"color": "independent"}}}
],
"spacing": 2,
"resolve": {"scale": {"color": "independent", "stroke": "independent", "fill": "independent"}, "legend": {"color": "independent"}}
}
